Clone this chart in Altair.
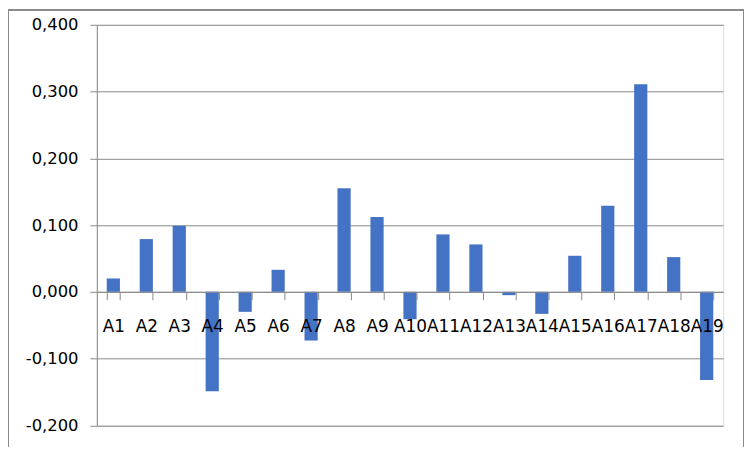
import altair as alt
import pandas as pd

categories = ["A1", "A2", "A3", "A4", "A5", "A6", "A7", "A8", "A9", "A10",
              "A11", "A12", "A13", "A14", "A15", "A16", "A17", "A18", "A19"]
values = [0.020, 0.079, 0.099, -0.149, -0.030, 0.033, -0.073, 0.155, 0.112, -0.041,
          0.086, 0.071, -0.005, -0.033, 0.054, 0.129, 0.311, 0.052, -0.132]
y_ticks = [-0.2, -0.1, 0.0, 0.1, 0.2, 0.3, 0.4]

df = pd.DataFrame({"cat": categories, "val": values})

W = 631
H = 403.5
GRAY = "#898989"
FONT = "DejaVu Sans"

bars = alt.Chart(df).mark_bar(color="#4472C4").encode(
    x=alt.X("cat:N", sort=None,
            scale=alt.Scale(paddingInner=0.6, paddingOuter=0.3),
            axis=alt.Axis(title=None, orient="bottom", offset=-H / 3,
                          labelAngle=0, tickBand="extent", tickSize=8,
                          tickColor=GRAY, domainColor=GRAY, grid=False,
                          labelFont=FONT, labelFontSize=17, labelColor="#000000",
                          labelPadding=19, zindex=1, labelOverlap=False)),
    y=alt.Y("val:Q",
            scale=alt.Scale(domain=[-0.2, 0.4], nice=False, zero=False),
            axis=alt.Axis(title=None, values=y_ticks, grid=True, gridColor=GRAY,
                          domainColor=GRAY, tickColor=GRAY, tickSize=7,
                          labelFont=FONT, labelFontSize=16.5, labelColor="#000000",
                          labelPadding=12,
                          labelExpr="replace(replace(format(datum.value, '.3f'), '.', ','), '\u2212', '-')")),
)

border = alt.Chart(df).mark_rect(fill=None, stroke=GRAY, strokeWidth=1).encode(
    x=alt.value(-89), x2=alt.value(651.5),
    y=alt.value(-14.8), y2=alt.value(H + 60),
)

chart = alt.layer(border, bars).properties(
    width=W, height=H,
    autosize=alt.AutoSizeParams(type="none"),
    padding={"left": 89.5, "top": 15.3, "right": 21, "bottom": 20},
).configure_view(stroke=None).configure(background="white")

chart.save("out.html", embed_options={"renderer": "svg", "actions": False})
